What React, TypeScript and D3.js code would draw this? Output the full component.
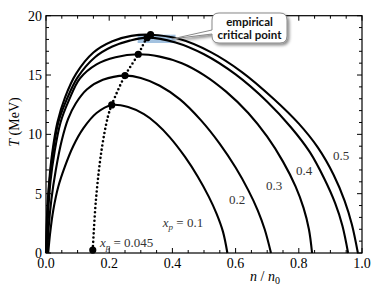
import React from 'react';
import * as d3 from 'd3';

type P = [number, number];

const xpLabels = ['x_p = 0.1', '0.2', '0.3', '0.4', '0.5'];
const curve01: P[] = [[0.007,0],[0.013,1.66],[0.023,3.6],[0.039,5.6],[0.06,7.3],[0.086,9.0],[0.118,10.5],[0.16,11.8],[0.208,12.48],[0.26,12.3],[0.31,11.7],[0.35,10.9],[0.392,9.75],[0.44,8.1],[0.48,6.45],[0.515,4.75],[0.54,3.3],[0.56,1.8],[0.574,0]];
const curve02: P[] = [[0.004,0],[0.008,2],[0.017,4.5],[0.031,7],[0.05,9.5],[0.07,11.3],[0.094,12.6],[0.13,13.8],[0.18,14.6],[0.25,14.95],[0.3,14.75],[0.36,14.1],[0.424,12.95],[0.49,11.2],[0.55,9.2],[0.6,7.2],[0.64,5.3],[0.67,3.6],[0.692,2.0],[0.712,0]];
const curve03: P[] = [[0.002,0],[0.006,3],[0.014,6],[0.027,8.5],[0.046,11],[0.073,12.9],[0.107,14.7],[0.16,15.9],[0.22,16.5],[0.292,16.75],[0.36,16.55],[0.43,16.0],[0.5,15.0],[0.57,13.6],[0.64,11.8],[0.7,9.8],[0.75,7.7],[0.79,5.6],[0.815,3.8],[0.832,2.0],[0.842,0]];
const curve04: P[] = [[0.001,0],[0.004,3],[0.011,6],[0.022,8.5],[0.039,11],[0.065,12.9],[0.1,14.8],[0.155,16.5],[0.21,17.4],[0.265,17.9],[0.32,18.15],[0.41,17.75],[0.5,16.75],[0.6,15.05],[0.7,12.75],[0.775,10.6],[0.835,8.5],[0.88,6.3],[0.915,4.2],[0.938,2.3],[0.956,0]];
const curve05: P[] = [[0.0,0],[0.003,3],[0.01,6],[0.02,8.5],[0.036,11],[0.06,13.1],[0.095,15.1],[0.15,16.9],[0.21,17.85],[0.27,18.3],[0.331,18.4],[0.42,18.05],[0.52,16.95],[0.62,15.25],[0.72,13.0],[0.8,10.9],[0.86,8.9],[0.91,6.6],[0.945,4.4],[0.968,2.4],[0.987,0]];
const curves = [curve01, curve02, curve03, curve04, curve05];

const criticalLine: P[] = [[0.148,0.25],[0.158,4.47],[0.176,8.7],[0.196,11.5],[0.208,12.48],[0.25,14.95],[0.292,16.75],[0.32,18.15],[0.331,18.4]];
const criticalDots: P[] = [[0.148,0.25],[0.208,12.48],[0.25,14.95],[0.292,16.75],[0.32,18.15],[0.331,18.4]];
const empiricalN = [0.29, 0.41];
const empiricalT = [17.7, 18.4];

const xTicks = [0, 0.2, 0.4, 0.6, 0.8, 1.0];
const yTicks = [0, 5, 10, 15, 20];

export default function App() {
  const W = 382, H = 286;
  const x = d3.scaleLinear().domain([0, 1]).range([46, 362]);
  const y = d3.scaleLinear().domain([0, 20]).range([253, 15.7]);
  const line = d3.line<P>().x(d => x(d[0])).y(d => y(d[1])).curve(d3.curveCatmullRom.alpha(0.5));

  const xMinor = d3.range(0, 1.0001, 0.05);
  const yMinor = d3.range(0, 20.0001, 1);

  const x0 = x(0), x1 = x(1), y0 = y(0), y1 = y(20);

  const bx = 212, by = 13, bw = 75, bh = 30, r = 7;
  const tipX = x(empiricalN[1]) - 3, tipY = y(18.05);
  const calloutPath = `M${bx + r},${by} H${bx + bw - r} Q${bx + bw},${by} ${bx + bw},${by + r} V${by + bh - r} Q${bx + bw},${by + bh} ${bx + bw - r},${by + bh} H${bx + r} Q${bx},${by + bh} ${bx},${by + bh - r} V${by + 21} L${tipX},${tipY} L${bx},${by + 17} V${by + r} Q${bx},${by} ${bx + r},${by} Z`;

  const labelPos: [number, number, string][] = [
    [183, 227, xpLabels[0]],
    [237, 204, xpLabels[1]],
    [274, 190, xpLabels[2]],
    [304, 175, xpLabels[3]],
    [341, 160, xpLabels[4]],
  ];

  const renderLabel = (t: string, cx: number, bl: number, key: string, anchor: string = 'middle') => {
    if (t.startsWith('x_p')) {
      const v = t.split('= ')[1];
      return (
        <text key={key} className="serif" x={cx} y={bl} textAnchor={anchor} fontFamily="Liberation Serif" fontSize={13} fill="#333">
          <tspan fontStyle="italic">x</tspan>
          <tspan fontStyle="italic" fontSize={9} dy={3}>p</tspan>
          <tspan dy={-3}>{' = ' + v}</tspan>
        </text>
      );
    }
    return <text key={key} className="serif" x={cx} y={bl} textAnchor={anchor} fontFamily="Liberation Serif" fontSize={13} fill="#333">{t}</text>;
  };

  return (
    <svg width={W} height={H} style={{ position: 'absolute', left: 0, top: 0, background: '#fff' }}>
      <style>{`.serif { font-family: 'Liberation Serif'; } .callout { font-family: 'Lato'; font-weight: bold; }`}</style>
      <defs>
        <filter id="calloutShadow" x="-20%" y="-20%" width="150%" height="160%">
          <feDropShadow dx="2" dy="2" stdDeviation="1.5" floodColor="#000" floodOpacity="0.45" />
        </filter>
      </defs>

      <rect x={x(empiricalN[0])} y={y(empiricalT[1])} width={x(empiricalN[1]) - x(empiricalN[0])}
        height={y(empiricalT[0]) - y(empiricalT[1])} fill="#a3c2e0" />

      {curves.map((c, i) => (
        <path key={i} d={line(c) || ''} fill="none" stroke="#000" strokeWidth={2.1} />
      ))}
      <path d={line(criticalLine) || ''} fill="none" stroke="#000" strokeWidth={2.6} strokeLinecap="round" strokeDasharray="0 4.2" />
      {criticalDots.map((d, i) => (
        <circle key={i} cx={x(d[0])} cy={y(d[1])} r={3.6} fill="#000" />
      ))}

      <rect x={x0} y={y1} width={x1 - x0} height={y0 - y1} fill="none" stroke="#000" strokeWidth={1.2} />
      {xMinor.map((v, i) => {
        const major = Math.abs(v * 5 - Math.round(v * 5)) < 1e-6;
        const L = major ? 5 : 3;
        return (
          <g key={'xt' + i}>
            <line x1={x(v)} x2={x(v)} y1={y0} y2={y0 - L} stroke="#000" strokeWidth={1} />
            <line x1={x(v)} x2={x(v)} y1={y1} y2={y1 + L} stroke="#000" strokeWidth={1} />
          </g>
        );
      })}
      {yMinor.map((v, i) => {
        const major = v % 5 === 0;
        const L = major ? 5 : 3;
        return (
          <g key={'yt' + i}>
            <line x1={x0} x2={x0 + L} y1={y(v)} y2={y(v)} stroke="#000" strokeWidth={1} />
            <line x1={x1} x2={x1 - L} y1={y(v)} y2={y(v)} stroke="#000" strokeWidth={1} />
          </g>
        );
      })}
      {xTicks.map((v, i) => (
        <text key={'xl' + i} className="serif" x={x(v)} y={268} textAnchor="middle" fontFamily="Liberation Serif" fontSize={14} fill="#000">{v.toFixed(1)}</text>
      ))}
      {yTicks.map((v, i) => (
        <text key={'yl' + i} className="serif" x={42} y={y(v) + 5} textAnchor="end" fontFamily="Liberation Serif" fontSize={14} fill="#000">{String(v)}</text>
      ))}

      <text className="serif" x={265} y={281} textAnchor="middle" fontFamily="Liberation Serif" fontSize={14}>
        <tspan fontStyle="italic">n</tspan><tspan>{' / '}</tspan><tspan fontStyle="italic">n</tspan><tspan fontSize={10} dy={3}>0</tspan>
      </text>
      <text className="serif" transform="translate(19,122) rotate(-90)" textAnchor="middle" fontFamily="Liberation Serif" fontSize={14}>
        <tspan fontStyle="italic">T</tspan><tspan>{' (MeV)'}</tspan>
      </text>

      {labelPos.map((l, i) => renderLabel(l[2], l[0], l[1], 'lab' + i))}
      {renderLabel('x_p = 0.045', 100, 247, 'lab045', 'start')}

      <path d={calloutPath} fill="#fff" stroke="#888" strokeWidth={1} filter="url(#calloutShadow)" />
      <text className="callout" x={bx + bw / 2} y={by + 13} textAnchor="middle" fontFamily="Lato" fontWeight="bold" fontSize={11.5} fill="#111">empirical</text>
      <text className="callout" x={bx + bw / 2} y={by + 26} textAnchor="middle" fontFamily="Lato" fontWeight="bold" fontSize={11.5} fill="#111">critical point</text>
    </svg>
  );
}
